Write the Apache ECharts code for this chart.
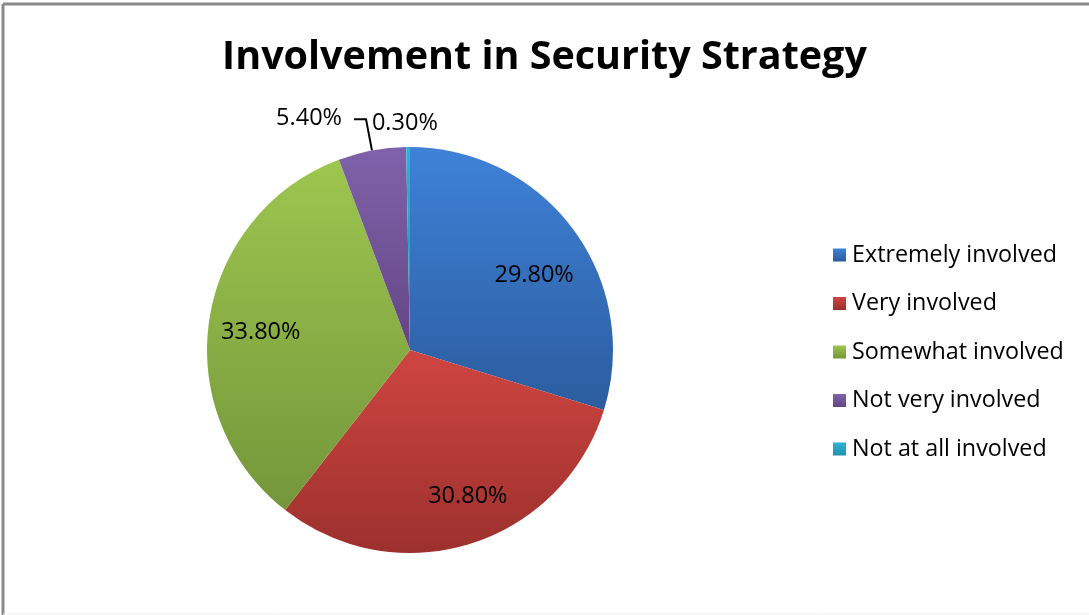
<!DOCTYPE html>
<html>
<head>
<meta charset="utf-8">
<script src="https://cdn.jsdelivr.net/npm/echarts@6/dist/echarts.min.js"></script>
<style>
html,body{margin:0;padding:0;background:#fff;overflow:hidden;}
#chart{width:1089px;height:615px;}
</style>
</head>
<body>
<div id="chart"></div>
<script>
const titleText = 'Involvement in Security Strategy';
const categories = ['Extremely involved', 'Very involved', 'Somewhat involved', 'Not very involved', 'Not at all involved'];
const values = [29.8, 30.8, 33.8, 5.4, 0.3];
const labelTexts = ['29.80%', '30.80%', '33.80%', '5.40%', '0.30%'];
const colorsTop = ['#3E82D8', '#CE4541', '#9DC64F', '#8062AA', '#2DB4D6'];
const colorsBottom = ['#2B5C9E', '#9C302D', '#74963A', '#634586', '#2390AC'];

function grad(i) {
  return {
    type: 'linear', x: 0, y: 0, x2: 0, y2: 1,
    colorStops: [{offset: 0, color: colorsTop[i]}, {offset: 1, color: colorsBottom[i]}]
  };
}

const FONT = 'Open Sans';
const outsideIdx = [3, 4];
// small label nudges (style only) to mimic Excel's best-fit placement
const labelNudgeX = [1, 12, 2, -6, 3];
const labelNudgeY = [16, 0, 6, -1, 0];

const mainData = categories.map((name, i) => {
  const isOut = outsideIdx.indexOf(i) >= 0;
  return {
    name: name,
    value: values[i],
    itemStyle: {color: grad(i)},
    label: {show: isOut},
    labelLine: {show: i === 3, length: i === 3 ? 32 : 24, length2: i === 3 ? 12 : 0}
  };
});

const overlayData = categories.map((name, i) => ({
  name: name,
  value: values[i],
  itemStyle: {color: 'rgba(0,0,0,0)'},
  label: {show: outsideIdx.indexOf(i) < 0}
}));

const chart = echarts.init(document.getElementById('chart'), null, {renderer: 'canvas'});
chart.setOption({
  animation: false,
  backgroundColor: '#ffffff',
  title: {
    text: titleText,
    left: 'center',
    top: 33,
    textStyle: {fontFamily: FONT, fontWeight: 'bold', fontSize: 39.5, color: '#000'}
  },
  legend: {
    orient: 'vertical',
    left: 833,
    top: 243,
    padding: 0,
    icon: 'rect',
    itemWidth: 13,
    itemHeight: 13,
    itemGap: 24.5,
    itemStyle: {borderWidth: 0},
    textStyle: {fontFamily: FONT, fontSize: 23.3, color: '#000', lineHeight: 24, padding: [0, 0, 0, 1]},
    selectedMode: false,
    data: categories.map((name, i) => ({name: name, itemStyle: {color: grad(i)}}))
  },
  graphic: [
    {type: 'line', silent: true, shape: {x1: 3, y1: 4, x2: 1089, y2: 4}, style: {stroke: '#8a8a8a', lineWidth: 3}},
    {type: 'line', silent: true, shape: {x1: 3, y1: 4, x2: 3, y2: 615}, style: {stroke: '#8a8a8a', lineWidth: 3}},
    {type: 'line', silent: true, shape: {x1: 3, y1: 614, x2: 1089, y2: 614}, style: {stroke: '#eeeeee', lineWidth: 1}}
  ],
  series: [
    {
      type: 'pie',
      center: [410, 350],
      radius: [0, 203],
      startAngle: 90,
      clockwise: true,
      avoidLabelOverlap: false,
      silent: true,
      label: {
        position: 'outside',
        fontFamily: FONT,
        fontSize: 23.5,
        color: '#000',
        distanceToLabelLine: 6,
        formatter: p => labelTexts[p.dataIndex]
      },
      labelLine: {lineStyle: {color: '#000', width: 2}},
      labelLayout: function (p) {
        const r = {dx: labelNudgeX[p.dataIndex], dy: labelNudgeY[p.dataIndex]};
        if (p.dataIndex === 4) r.align = 'center';
        return r;
      },
      data: mainData
    },
    {
      type: 'pie',
      center: [410, 350],
      radius: [97, 203],
      startAngle: 90,
      clockwise: true,
      silent: true,
      avoidLabelOverlap: false,
      label: {
        position: 'inside',
        fontFamily: FONT,
        fontSize: 23.5,
        color: '#000',
        formatter: p => labelTexts[p.dataIndex]
      },
      labelLine: {show: false},
      labelLayout: function (p) {
        return {dx: labelNudgeX[p.dataIndex], dy: labelNudgeY[p.dataIndex]};
      },
      data: overlayData
    }
  ]
});
</script>
</body>
</html>
